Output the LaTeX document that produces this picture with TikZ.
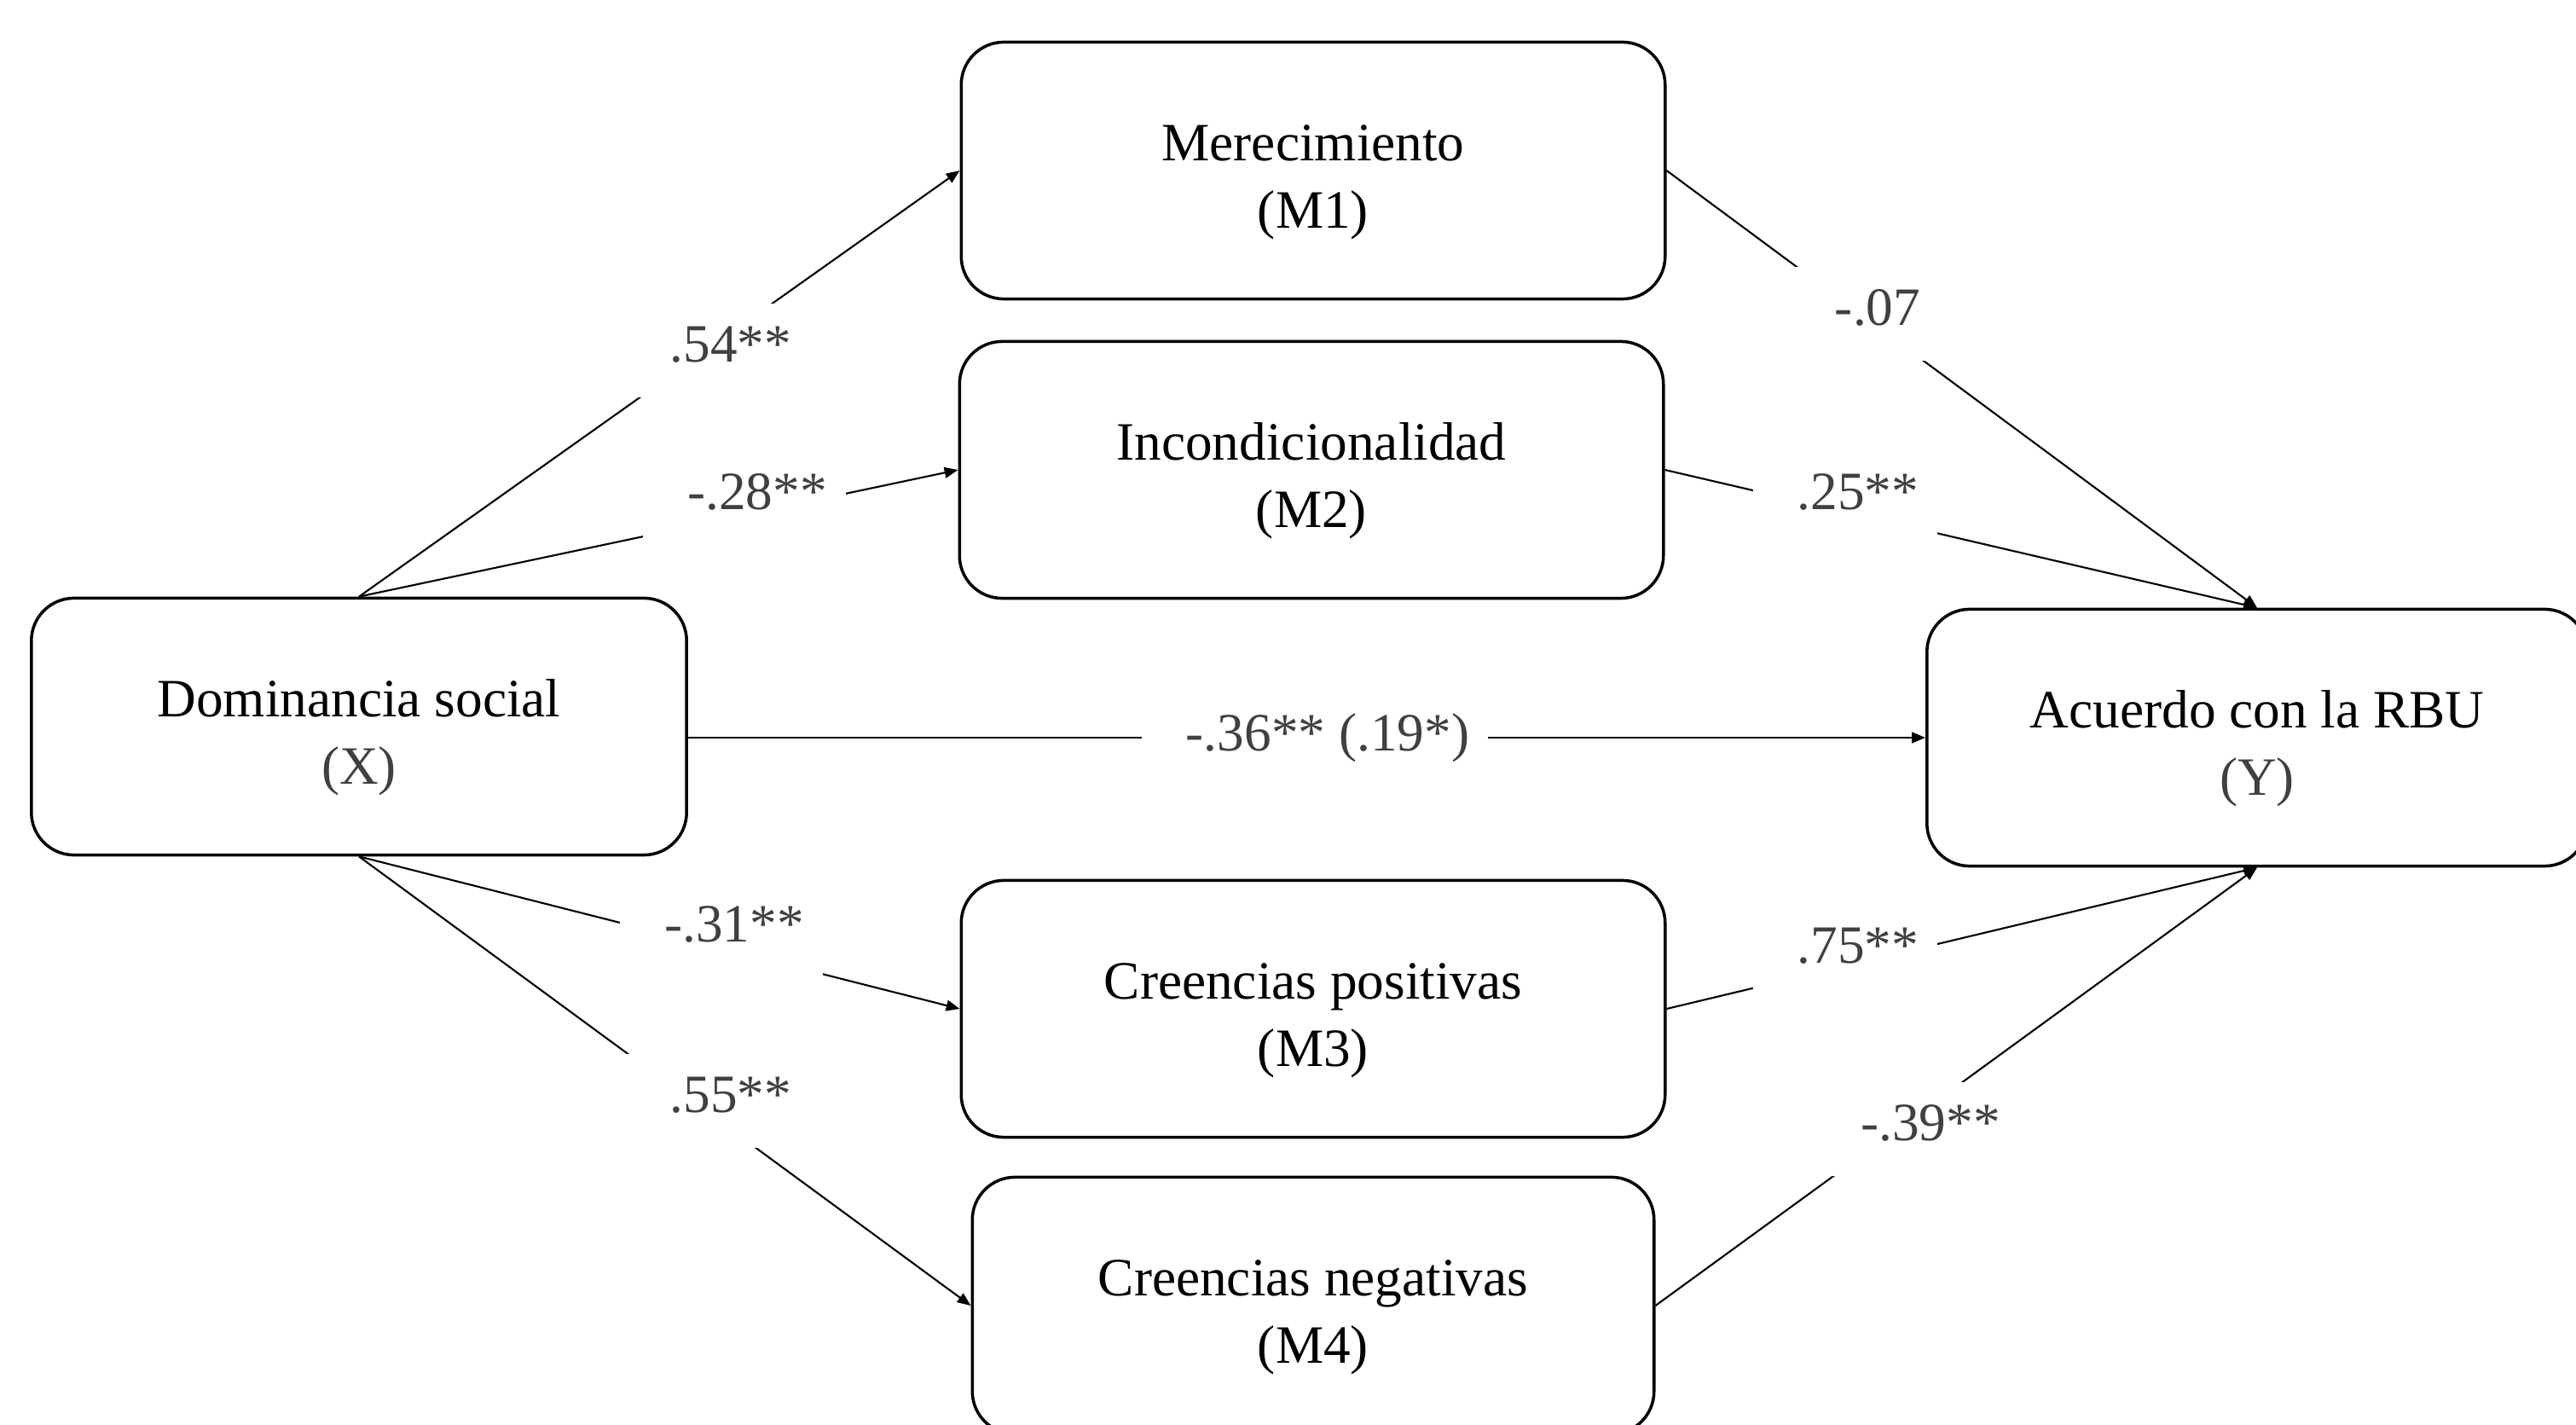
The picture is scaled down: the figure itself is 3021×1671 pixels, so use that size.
\documentclass[tikz,border=0pt]{standalone}
\usepackage{fontspec}
\setmainfont{Liberation Serif}
\usetikzlibrary{arrows.meta}
\definecolor{labgray}{HTML}{404040}
\newcommand{\topstrut}{\rule{0pt}{0.69cm}}
\begin{document}
\begin{tikzpicture}[x=0.01cm,y=-0.01cm,
  box/.style={draw=black, line width=1pt, rounded corners=0.5cm, fill=white, align=center,
    minimum height=3.01cm, inner sep=0pt, font=\fontsize{18}{22.5}\selectfont},
  conn/.style={line width=0.6pt, -{Triangle[length=4.5pt,width=3.6pt]}},
  lbl/.style={fill=white, inner sep=0pt, text=labgray, anchor=base, xshift=-0.15cm, yshift=-0.214cm,
    text height=0.68cm, text depth=0.42cm, font=\fontsize{18}{22.5}\selectfont}]

\useasboundingbox (0,0) rectangle (3021,1671);
\clip (0,0) rectangle (3021,1671);

\node[box, minimum width=7.68cm] (X) at (421,852) {\topstrut Dominancia social\\\textcolor{labgray}{(X)}};
\node[box, minimum width=8.25cm] (M1) at (1540,200) {\topstrut Merecimiento\\(M1)};
\node[box, minimum width=8.25cm] (M2) at (1538,551) {\topstrut Incondicionalidad\\(M2)};
\node[box, minimum width=8.25cm] (M3) at (1540,1183) {\topstrut Creencias positivas\\(M3)};
\node[box, minimum width=7.99cm] (M4) at (1540,1531) {\topstrut Creencias negativas\\(M4)};
\node[box, minimum width=7.74cm] (Y) at (2647,865) {\topstrut Acuerdo con la RBU\\\textcolor{labgray}{(Y)}};

\draw[conn] (X.north) -- (M1.west);
\draw[conn] (X.north) -- (M2.west);
\draw[conn] (X.east |- Y.west) -- (Y.west);
\draw[conn] (M1.east) -- (Y.north);
\draw[conn] (M2.east) -- (Y.north);
\draw[conn] (X.south) -- (M3.west);
\draw[conn] (X.south) -- (M4.west);
\draw[conn] (M3.east) -- (Y.south);
\draw[conn] (M4.east) -- (Y.south);

\node[lbl] (l1) at (857,403) {\hspace*{0.52cm}.54**\hspace*{0.22cm}};
\node[lbl] (l2) at (888,576) {\hspace*{0.52cm}-.28**\hspace*{0.22cm}};
\node[lbl] (l3) at (1557,859) {\hspace*{0.52cm}-.36** (.19*)\hspace*{0.22cm}};
\node[lbl] (l4) at (2202,360) {\hspace*{0.52cm}-.07\hspace*{0.22cm}};
\node[lbl] (l5) at (2179,576) {\hspace*{0.52cm}.25**\hspace*{0.22cm}};
\node[lbl] (l6) at (861,1083) {\hspace*{0.52cm}-.31**\hspace*{0.22cm}};
\node[lbl] (l7) at (857,1283) {\hspace*{0.52cm}.55**\hspace*{0.22cm}};
\node[lbl] (l8) at (2179,1108) {\hspace*{0.52cm}.75**\hspace*{0.22cm}};
\node[lbl] (l9) at (2264,1316) {\hspace*{0.52cm}-.39**\hspace*{0.22cm}};
\end{tikzpicture}
\end{document}
